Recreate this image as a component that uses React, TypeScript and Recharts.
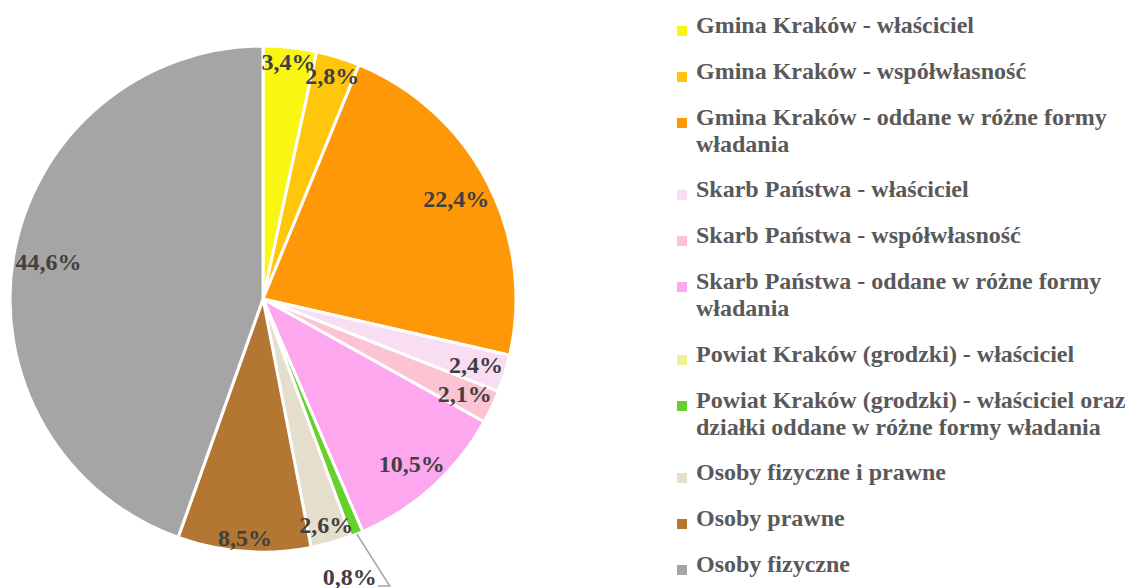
import React from 'react'
import { PieChart, Pie, Cell } from 'recharts'

const categories = [
  'Gmina Kraków - właściciel',
  'Gmina Kraków - współwłasność',
  'Gmina Kraków - oddane w różne formy władania',
  'Skarb Państwa - właściciel',
  'Skarb Państwa - współwłasność',
  'Skarb Państwa - oddane w różne formy władania',
  'Powiat Kraków (grodzki) - właściciel',
  'Powiat Kraków (grodzki) - właściciel oraz działki oddane w różne formy władania',
  'Osoby fizyczne i prawne',
  'Osoby prawne',
  'Osoby fizyczne',
]

const shares = [3.4, 2.8, 22.4, 2.4, 2.1, 10.5, 0, 0.8, 2.6, 8.5, 44.6]

const colors = [
  '#FAF614',
  '#FFC60B',
  '#FF9808',
  '#F9DDF2',
  '#FCC3D2',
  '#FDA7EE',
  '#EEF293',
  '#66D12A',
  '#E6DECC',
  '#B37733',
  '#A5A5A5',
]

const data = categories.map((name, i) => ({ name, value: shares[i] }))

const RAD = Math.PI / 180
const LABEL_SIZE = 24
const FONT = '"Liberation Serif", "Times New Roman", serif'

const fmt = (v: number) => v.toFixed(1).replace('.', ',') + '%'

function renderLabel(props: any) {
  const { cx, cy, midAngle, outerRadius, value } = props
  if (!value) return null
  const text = fmt(value)
  const cos = Math.cos(-midAngle * RAD)
  const sin = Math.sin(-midAngle * RAD)
  const style = {
    fontFamily: FONT,
    fontWeight: 700,
    fontSize: LABEL_SIZE,
    fill: '#404040',
  }
  if (value < 1) {
    // small slice: label outside with a leader line
    const sx = cx + outerRadius * cos
    const sy = cy + outerRadius * sin
    const ex = sx + 33
    const ey = sy + 52
    return (
      <g>
        <polyline
          points={`${sx},${sy} ${ex},${ey} ${ex - 12},${ey}`}
          fill="none"
          stroke="#A6A6A6"
          strokeWidth={1.5}
        />
        <text x={ex - 13} y={ey - 9} textAnchor="end" dominantBaseline="central" style={style}>
          {text}
        </text>
      </g>
    )
  }
  const digits = text.replace(/[^0-9]/g, '').length
  const w = LABEL_SIZE * (0.5 * digits + 0.25 + 1)
  const h = LABEL_SIZE * 0.9
  const r = outerRadius - (w / 2) * Math.abs(cos) - (h / 2) * Math.abs(sin) - 1
  return (
    <text
      x={cx + r * cos}
      y={cy + r * sin}
      textAnchor="middle"
      dominantBaseline="central"
      style={style}
    >
      {text}
    </text>
  )
}

function LegendList() {
  return (
    <div
      style={{
        position: 'absolute',
        left: 677,
        top: 12,
        fontFamily: FONT,
        fontWeight: 700,
        fontSize: LABEL_SIZE,
        lineHeight: '27px',
        color: '#595959',
      }}
    >
      {categories.map((c, i) => (
        <div key={c} style={{ display: 'flex', alignItems: 'flex-start', marginBottom: 18.8 }}>
          <span
            style={{
              display: 'inline-block',
              width: 10,
              height: 10,
              marginTop: 14,
              marginRight: 9,
              flex: '0 0 10px',
              background: colors[i],
            }}
          />
          <span style={{ width: 436 }}>{c}</span>
        </div>
      ))}
    </div>
  )
}

export default function App() {
  return (
    <div style={{ position: 'absolute', left: 0, top: 0, width: 1129, height: 588, background: '#fff', overflow: 'hidden' }}>
      <PieChart width={1129} height={588} margin={{ top: 0, right: 0, bottom: 0, left: 0 }}>
        <Pie
          data={data}
          dataKey="value"
          nameKey="name"
          cx={263}
          cy={299}
          outerRadius={253}
          startAngle={90}
          endAngle={-270}
          stroke="#ffffff"
          strokeWidth={3}
          label={renderLabel}
          labelLine={false}
          isAnimationActive={false}
        >
          {data.map((d, i) => (
            <Cell key={d.name} fill={colors[i]} />
          ))}
        </Pie>
      </PieChart>
      <LegendList />
    </div>
  )
}
